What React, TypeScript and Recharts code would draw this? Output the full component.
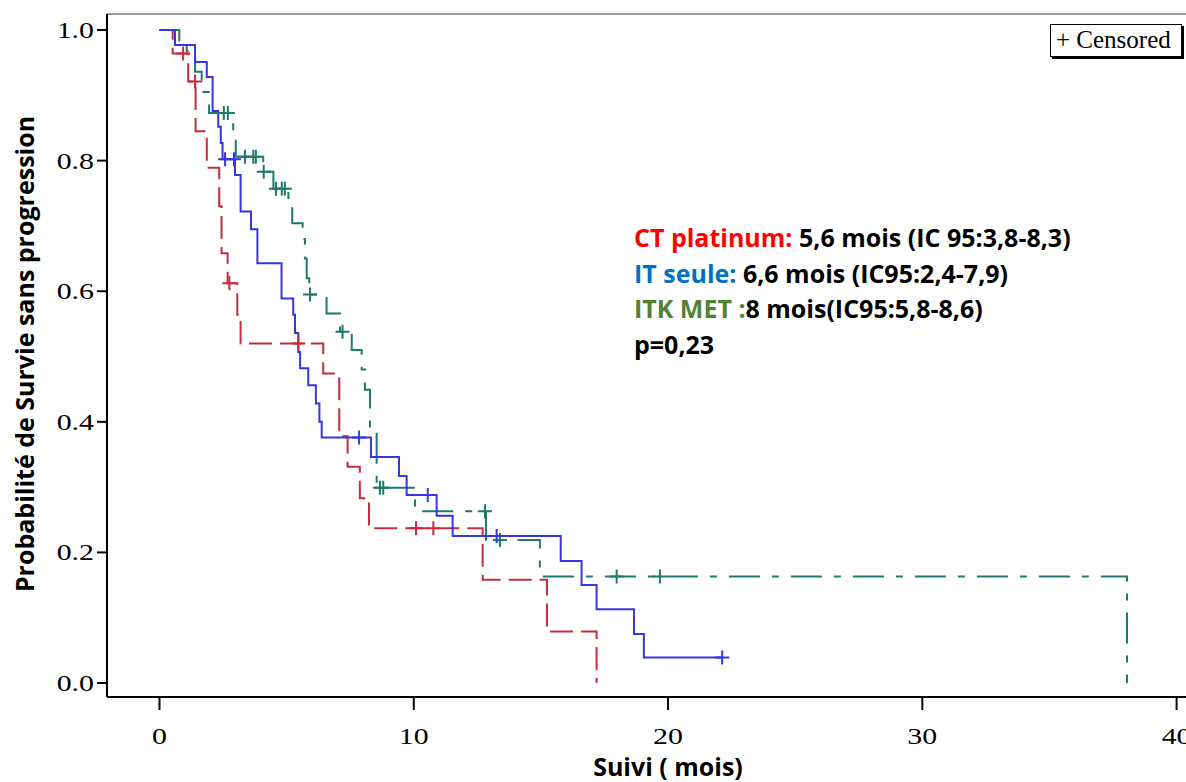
import { ComposedChart, Line, Scatter, XAxis, YAxis, ReferenceLine } from 'recharts';

// CT platinum
const ctTimes = [0, 0.52, 1.13, 1.42, 1.86, 2.35, 2.44, 2.68, 3.06, 3.19, 6.44, 7.07, 7.4, 7.88, 8.24, 12.71, 15.24, 17.19];
const ctSurv = [1, 0.964, 0.921, 0.845, 0.789, 0.73, 0.658, 0.612, 0.564, 0.52, 0.474, 0.378, 0.331, 0.283, 0.237, 0.158, 0.079, 0];
const ctCensT = [0.93, 1.4, 2.75, 5.46, 10.09, 10.77];
const ctCensS = [0.964, 0.921, 0.612, 0.52, 0.237, 0.237];

// IT seule
const itTimes = [0, 0.61, 1.4, 1.86, 2.09, 2.31, 2.41, 2.48, 2.97, 3.19, 3.6, 3.85, 4.8, 5.26, 5.33, 5.46, 5.53, 5.85, 6.15, 6.29, 6.38, 8.32, 9.42, 9.72, 10.9, 11.53, 15.78, 16.6, 17.19, 18.66, 19.05, 22.13];
const itSurv = [1, 0.977, 0.951, 0.928, 0.876, 0.852, 0.827, 0.802, 0.778, 0.722, 0.695, 0.643, 0.589, 0.564, 0.536, 0.507, 0.482, 0.456, 0.428, 0.4, 0.376, 0.346, 0.317, 0.288, 0.256, 0.225, 0.187, 0.15, 0.113, 0.075, 0.039, 0.039];
const itCensT = [2.58, 2.93, 7.85, 10.55, 13.26, 22.13];
const itCensS = [0.802, 0.802, 0.376, 0.288, 0.225, 0.039];

// ITK MET
const metTimes = [0, 0.78, 1.07, 1.4, 1.66, 1.95, 2.9, 3.0, 4.08, 4.48, 5.07, 5.22, 5.63, 5.72, 5.79, 5.89, 6.57, 7.1, 7.56, 7.95, 8.08, 8.28, 8.54, 10.05, 12.84, 14.96, 38.05];
const metSurv = [1, 0.984, 0.968, 0.936, 0.905, 0.873, 0.84, 0.806, 0.783, 0.757, 0.73, 0.704, 0.68, 0.65, 0.62, 0.595, 0.566, 0.538, 0.51, 0.48, 0.449, 0.39, 0.299, 0.263, 0.219, 0.163, 0];
const metCensT = [2.53, 2.69, 3.36, 3.69, 3.79, 4.1, 4.58, 4.81, 4.93, 5.92, 7.2, 8.67, 8.8, 12.8, 13.39, 17.98, 19.68];
const metCensS = [0.873, 0.873, 0.806, 0.806, 0.806, 0.783, 0.757, 0.757, 0.757, 0.595, 0.538, 0.299, 0.299, 0.263, 0.219, 0.163, 0.163];

const xTicks = [0, 10, 20, 30, 40];
const yTicks = [0, 0.2, 0.4, 0.6, 0.8, 1.0];

const RED = '#c42c3e';
const BLUE = '#3535e5';
const GREEN = '#1d7a6c';

const X_MIN = -2.064;
const X_MAX = 40.37;
const Y_MIN = -0.0214;
const Y_MAX = 1.0245;

const zip = (ts: number[], ss: number[]) => ts.map((t, i) => ({ t, s: ss[i] }));

const cross = (color: string) => (props: any) => {
  const { cx, cy } = props;
  return <path d={`M${cx - 7},${cy}h14M${cx},${cy - 7}v14`} stroke={color} strokeWidth={2} fill="none" />;
};

const boldFont = '"Open Sans", Lato, sans-serif';
const serif = '"Liberation Serif", "DejaVu Serif", serif';

// wide serif tick labels, like the stretched Times of the original
const XTick = (props: any) => {
  const { x, y, payload } = props;
  return (
    <text transform={`translate(${x},${y}) scale(1.3,1)`} textAnchor="middle" dy="0.71em" fontFamily={serif} fontSize={23} fill="#000">
      {payload.value}
    </text>
  );
};

const YTick = (props: any) => {
  const { x, y, payload } = props;
  return (
    <text transform={`translate(${x},${y}) scale(1.3,1)`} textAnchor="end" dy="0.35em" fontFamily={serif} fontSize={23} fill="#000">
      {Number(payload.value).toFixed(1)}
    </text>
  );
};

export default function App() {
  return (
    <div style={{ position: 'absolute', left: 0, top: 0, width: 1186, height: 782, background: '#fff', overflow: 'hidden' }}>
      <ComposedChart width={1186} height={782} margin={{ top: 14, right: 0, bottom: 35, left: 47 }}>
        <XAxis
          type="number"
          dataKey="t"
          domain={[X_MIN, X_MAX]}
          ticks={xTicks}
          allowDataOverflow
          height={50}
          tickSize={13}
          tickMargin={18}
          stroke="#000"
          strokeWidth={2}
          tick={<XTick />}
        />
        <YAxis
          type="number"
          domain={[Y_MIN, Y_MAX]}
          ticks={yTicks}
          allowDataOverflow
          width={60}
          tickSize={10}
          tickMargin={3}
          stroke="#000"
          strokeWidth={2}
          tick={<YTick />}
        />
        <ReferenceLine y={Y_MAX} stroke="#9a9a9a" strokeWidth={2} />
        <Line data={zip(ctTimes, ctSurv)} dataKey="s" type="stepAfter" stroke={RED} strokeWidth={2} strokeDasharray="23 8" dot={false} isAnimationActive={false} />
        <Line data={zip(metTimes, metSurv)} dataKey="s" type="stepAfter" stroke={GREEN} strokeWidth={2} strokeDasharray="31 12 7 12" dot={false} isAnimationActive={false} />
        <Line data={zip(itTimes, itSurv)} dataKey="s" type="stepAfter" stroke={BLUE} strokeWidth={2} dot={false} isAnimationActive={false} />
        <Scatter data={zip(ctCensT, ctCensS)} dataKey="s" shape={cross(RED)} isAnimationActive={false} />
        <Scatter data={zip(metCensT, metCensS)} dataKey="s" shape={cross(GREEN)} isAnimationActive={false} />
        <Scatter data={zip(itCensT, itCensS)} dataKey="s" shape={cross(BLUE)} isAnimationActive={false} />
      </ComposedChart>

      <div style={{ position: 'absolute', left: 24, top: 354, transform: 'translate(-50%, -50%) rotate(-90deg)', whiteSpace: 'nowrap', fontFamily: boldFont, fontWeight: 700, fontSize: 25, lineHeight: '28px', color: '#000' }}>
        Probabilité de Survie sans progression
      </div>
      <div style={{ position: 'absolute', left: 668, top: 766, transform: 'translate(-50%, -50%)', whiteSpace: 'nowrap', fontFamily: boldFont, fontWeight: 700, fontSize: 25, lineHeight: '28px', color: '#000' }}>
        Suivi ( mois)
      </div>

      <div style={{ position: 'absolute', left: 634, top: 220, fontFamily: boldFont, fontWeight: 700, fontSize: 25, lineHeight: '35.5px', color: '#000', whiteSpace: 'nowrap' }}>
        <div><span style={{ color: '#ff0000' }}>CT platinum:</span> 5,6 mois (IC 95:3,8-8,3)</div>
        <div><span style={{ color: '#0070c0' }}>IT seule:</span> 6,6 mois (IC95:2,4-7,9)</div>
        <div><span style={{ color: '#548235' }}>ITK MET :</span>8 mois(IC95:5,8-8,6)</div>
        <div>p=0,23</div>
      </div>

      <div style={{ position: 'absolute', left: 1050, top: 24, width: 132, height: 33, border: '1.5px solid #000', boxShadow: '2px 2px 0 #000', fontFamily: serif, fontSize: 25, lineHeight: '30px', paddingLeft: 5, boxSizing: 'border-box', whiteSpace: 'nowrap', background: '#fff' }}>
        + Censored
      </div>
    </div>
  );
}
